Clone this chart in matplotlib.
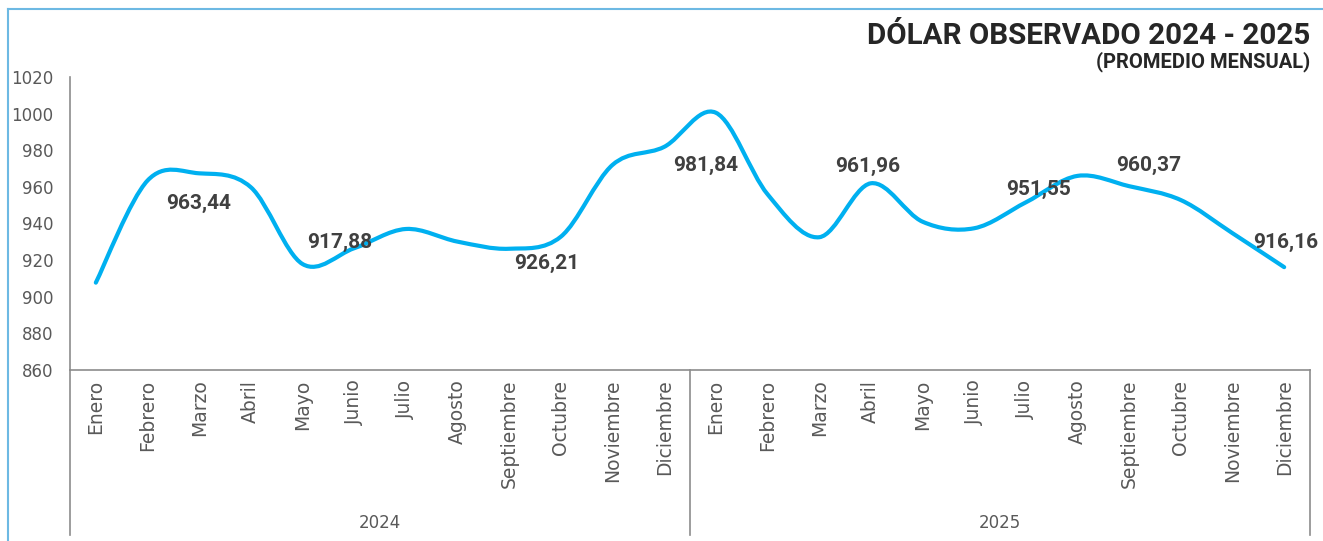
import numpy as np
import matplotlib.pyplot as plt
from matplotlib.path import Path
from matplotlib.patches import PathPatch
from matplotlib.lines import Line2D

# Monthly averages
months = ['Enero', 'Febrero', 'Marzo', 'Abril', 'Mayo', 'Junio', 'Julio',
          'Agosto', 'Septiembre', 'Octubre', 'Noviembre', 'Diciembre']
years = ['2024', '2025']
values_2024 = [907.7, 963.44, 967.4, 959.8, 917.88, 926.5, 937.0, 930.1,
               926.21, 932.8, 972.0, 981.84]
values_2025 = [1000.5, 956.0, 932.5, 961.96, 941.0, 937.4, 951.55, 966.0,
               960.37, 952.8, 934.7, 916.16]

# which points carry a data label, and where the label sits (pixels)
labelled = [1, 4, 8, 11, 15, 18, 20, 23]
label_offsets = [(51, -23), (37, 22), (38, -15), (41, -19),
                 (-3, 17), (13, 13), (20, 21), (2, 25)]

values = np.array(values_2024 + values_2025)
x = np.arange(len(values))

fig = plt.figure(figsize=(13.23, 5.41), dpi=100)
ax = fig.add_axes([70 / 1323, 1 - 370 / 541, 1240 / 1323, 293 / 541])

# Excel style smoothed line: cubic bezier through every point
pts = np.column_stack([x, values])
verts = [tuple(pts[0])]
codes = [Path.MOVETO]
n = len(pts)
for i in range(n - 1):
    p_prev = pts[max(i - 1, 0)]
    p0 = pts[i]
    p1 = pts[i + 1]
    p_next = pts[min(i + 2, n - 1)]
    c1 = p0 + (p1 - p_prev) / 6
    c2 = p1 - (p_next - p0) / 6
    verts += [tuple(c1), tuple(c2), tuple(p1)]
    codes += [Path.CURVE4] * 3
ax.add_patch(PathPatch(Path(verts, codes), facecolor='none', edgecolor='#00B0F0',
                       lw=3.0, capstyle='round', joinstyle='round'))

for (i, (dx, dy)) in zip(labelled, label_offsets):
    txt = f'{values[i]:.2f}'.replace('.', ',')
    ax.annotate(txt, (i, values[i]), xytext=(dx, dy), textcoords='offset pixels',
                ha='center', va='center', fontsize=15, fontweight='bold',
                family='Roboto', color='#404040', annotation_clip=False)

ax.set_xlim(-0.5, 23.5)
ax.set_ylim(860, 1020)
ax.set_yticks(np.arange(860, 1021, 20))
ax.set_xticks(x, months * 2, rotation=90)
ax.tick_params(axis='both', length=0, colors='#595959', labelsize=12)
ax.tick_params(axis='x', pad=7, labelsize=13.5)
ax.tick_params(axis='y', pad=12)

for s in ['top', 'right']:
    ax.spines[s].set_visible(False)
for s in ['left', 'bottom']:
    ax.spines[s].set_color('#8C8C8C')
    ax.spines[s].set_linewidth(1.2)

# multi-level category axis: dividers and year labels
trans = ax.get_xaxis_transform()
for xv in [-0.5, 11.5, 23.5]:
    ax.plot([xv, xv], [0, -0.563], transform=trans, color='#8C8C8C', lw=1.2,
            clip_on=False)
for k, yr in enumerate(years):
    ax.text(5.5 + 12 * k, -0.522, yr, transform=trans, ha='center', va='center',
            fontsize=12, color='#595959')

# titles
fig.text(1310 / 1323, 1 - 36 / 541, 'DÓLAR OBSERVADO 2024 - 2025', ha='right',
         va='center', fontsize=21.3, fontweight='bold', family='Roboto',
         color='#262626')
fig.text(1310 / 1323, 1 - 62 / 541, '(PROMEDIO MENSUAL)', ha='right',
         va='center', fontsize=14.5, fontweight='bold', family='Roboto',
         color='#262626')

# chart area frame (only left and top are in view)
fig.add_artist(Line2D([7.5 / 1323, 7.5 / 1323], [0, 1 - 8.5 / 541],
                      color='#6DB9E3', lw=1.5))
fig.add_artist(Line2D([7.5 / 1323, 1], [1 - 8.5 / 541, 1 - 8.5 / 541],
                      color='#6DB9E3', lw=1.5))

fig.savefig('out.png', dpi=100)
